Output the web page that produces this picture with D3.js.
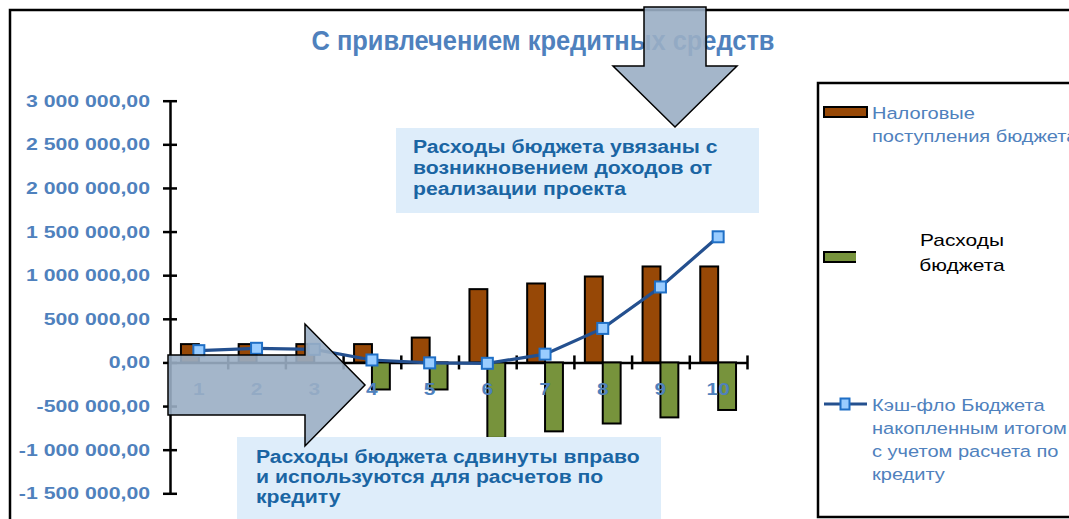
<!DOCTYPE html>
<html>
<head>
<meta charset="utf-8">
<script src="https://cdn.jsdelivr.net/npm/d3@7"></script>
<style>
  html, body { margin: 0; padding: 0; background: #fff; overflow: hidden; }
  svg { display: block; }
  text { font-family: "Liberation Sans", Arial, sans-serif; }
</style>
</head>
<body>
<svg id="chart" width="1069" height="519"></svg>
<script>
// ---- data ----
const categories = ["1", "2", "3", "4", "5", "6", "7", "8", "9", "10"];
const taxRevenue = [210000, 210000, 210000, 210000, 285000, 840000, 905000, 985000, 1100000, 1100000];
const budgetExpenses = [0, 0, 0, -310000, -310000, -865000, -790000, -700000, -630000, -545000];
const cashFlowCumulative = [135000, 162000, 150000, 28000, -5000, -10000, 95000, 390000, 865000, 1440000];
const yTickValues = [-1500000, -1000000, -500000, 0, 500000, 1000000, 1500000, 2000000, 2500000, 3000000];

const chartTitle = "С привлечением кредитных средств";
const seriesLabels = [
  ["Налоговые", "поступления бюджета"],
  ["Расходы", "бюджета"],
  ["Кэш-фло Бюджета", "накопленным итогом", "с учетом расчета по", "кредиту"]
];
const noteTop = ["Расходы бюджета увязаны с", "возникновением доходов от", "реализации проекта"];
const noteBottom = ["Расходы бюджета сдвинуты вправо", "и используются для расчетов по", "кредиту"];

// ---- styles ----
const C = {
  label: "#4f81bd",
  tax: "#974806",
  exp: "#77933c",
  line: "#24508f",
  markerFill: "#99ccff",
  markerStroke: "#1f6fc6",
  noteFill: "#deedfa",
  noteText: "#1a65a3",
  arrowFill: "#9aaec4"
};
const WIDEN = 1.23; // glyphs are drawn horizontally widened

const svg = d3.select("#chart");

function widen(sel, k) {
  sel.each(function () {
    const w = this.getComputedTextLength();
    this.setAttribute("textLength", w * k);
    this.setAttribute("lengthAdjust", "spacingAndGlyphs");
  });
  return sel;
}

const ruFormat = d3.formatLocale({ decimal: ",", thousands: " ", grouping: [3], currency: ["", ""], minus: "-" }).format(",.2f");

// outer frame
svg.append("rect").attr("x", 10).attr("y", 10).attr("width", 1200).attr("height", 700)
  .attr("fill", "none").attr("stroke", "#000").attr("stroke-width", 2.5);

// title
svg.append("text").attr("x", 543).attr("y", 50).attr("text-anchor", "middle")
  .attr("font-size", 27).attr("font-weight", "bold").attr("fill", C.label)
  .attr("textLength", 463).attr("lengthAdjust", "spacingAndGlyphs")
  .text(chartTitle);

// scales
const y = d3.scaleLinear().domain([-1500000, 3000000]).range([493.3, 100.7]);
const x0 = d3.scaleBand().domain(categories).range([170, 747]).paddingInner(0.38).paddingOuter(0.19);
const x1 = d3.scaleBand().domain(["tax", "exp"]).range([0, x0.bandwidth()]);
const xEdges = d3.scaleLinear().domain([0, categories.length]).range([170, 747]);

// y axis with crossing ticks
const yAxis = svg.append("g").attr("transform", "translate(170,0)")
  .call(d3.axisLeft(y).tickValues(yTickValues).tickSizeOuter(0).tickSizeInner(7).tickFormat(ruFormat));
yAxis.select(".domain").attr("stroke", "#000").attr("stroke-width", 2.5);
yAxis.selectAll(".tick line").attr("x1", -7).attr("x2", 7).attr("stroke", "#000").attr("stroke-width", 2.5);
yAxis.selectAll(".tick text").attr("x", -20).attr("font-size", 17).attr("font-weight", "bold")
  .attr("fill", C.label).attr("font-family", "Liberation Sans, Arial, sans-serif")
  .call(widen, 1.25);

// x axis: line at zero with crossing ticks at category edges
const xAxis = svg.append("g").attr("transform", `translate(0,${y(0)})`)
  .call(d3.axisBottom(xEdges).tickValues(d3.range(1, categories.length + 1)).tickSizeOuter(0).tickSizeInner(7).tickFormat(""));
xAxis.select(".domain").attr("stroke", "#000").attr("stroke-width", 2.5);
xAxis.selectAll(".tick line").attr("y1", -7).attr("y2", 7).attr("stroke", "#000").attr("stroke-width", 2.5);

// bars
const barData = categories.flatMap((c, i) => [
  { c, key: "tax", v: taxRevenue[i] },
  { c, key: "exp", v: budgetExpenses[i] }
]).filter(d => d.v !== 0);
svg.append("g").selectAll("rect").data(barData).join("rect")
  .attr("x", d => x0(d.c) + x1(d.key))
  .attr("y", d => y(Math.max(0, d.v)))
  .attr("width", x1.bandwidth())
  .attr("height", d => Math.abs(y(d.v) - y(0)))
  .attr("fill", d => d.key === "tax" ? C.tax : C.exp)
  .attr("stroke", "#000").attr("stroke-width", 2);

// category labels (drawn over the bars)
svg.append("g").selectAll("text").data(categories).join("text")
  .attr("x", d => x0(d) + x0.bandwidth() / 2).attr("y", 395)
  .attr("text-anchor", "middle").attr("font-size", 17).attr("font-weight", "bold").attr("fill", C.label)
  .text(d => d).call(widen, WIDEN);

// cumulative cash-flow line
const pts = categories.map((c, i) => [x0(c) + x0.bandwidth() / 2, y(cashFlowCumulative[i])]);
svg.append("path").datum(pts).attr("d", d3.line())
  .attr("fill", "none").attr("stroke", C.line).attr("stroke-width", 3.2);
svg.append("g").selectAll("rect").data(pts).join("rect")
  .attr("x", d => d[0] - 5.5).attr("y", d => d[1] - 5.5).attr("width", 11).attr("height", 11)
  .attr("fill", C.markerFill).attr("stroke", C.markerStroke).attr("stroke-width", 2);

// legend
svg.append("rect").attr("x", 818).attr("y", 83).attr("width", 400).attr("height", 434)
  .attr("fill", "#fff").attr("stroke", "#000").attr("stroke-width", 2.5);
const legendY = [112, 257, 404];
const lg = svg.append("g");
[C.tax, C.exp].forEach((col, i) => {
  lg.append("rect").attr("x", 824).attr("y", legendY[i] - 5).attr("width", 43).attr("height", 10)
    .attr("fill", col).attr("stroke", "#000").attr("stroke-width", 2);
});
lg.append("line").attr("x1", 824).attr("x2", 867).attr("y1", legendY[2]).attr("y2", legendY[2])
  .attr("stroke", C.line).attr("stroke-width", 3);
lg.append("rect").attr("x", 845 - 4.5).attr("y", legendY[2] - 5.5).attr("width", 9).attr("height", 11)
  .attr("fill", C.markerFill).attr("stroke", C.markerStroke).attr("stroke-width", 2);
[0, 2].forEach(i => {
  const t = lg.append("text").attr("font-size", 16.3).attr("fill", C.label);
  seriesLabels[i].forEach((s, j) => {
    t.append("tspan").attr("x", 872).attr("y", legendY[i] + 7 + j * 23).text(s);
  });
  t.selectAll("tspan").call(widen, WIDEN);
});

// expenses entry: white caption box with black text, partly over the swatch
svg.append("rect").attr("x", 856).attr("y", 222).attr("width", 206).attr("height", 62).attr("fill", "#fff");
const cap = svg.append("text").attr("font-size", 17).attr("fill", "#000").attr("text-anchor", "middle");
seriesLabels[1].forEach((s, j) => cap.append("tspan").attr("x", 962).attr("y", 246 + j * 25).text(s));
cap.selectAll("tspan").call(widen, WIDEN);

// note boxes
function note(x, yTop, w, h, tx, ty, lh, lines) {
  svg.append("rect").attr("x", x).attr("y", yTop).attr("width", w).attr("height", h).attr("fill", C.noteFill);
  const t = svg.append("text").attr("font-size", 17.5).attr("font-weight", "bold").attr("fill", C.noteText);
  lines.forEach((s, j) => t.append("tspan").attr("x", tx).attr("y", ty + j * lh).text(s));
  t.selectAll("tspan").call(widen, 1.21);
}
note(396, 128, 363, 85, 413, 153, 21, noteTop);
note(237, 437, 424, 90, 256, 463, 20, noteBottom);

// block arrows
const arrow = d3.line();
svg.append("path")
  .attr("d", arrow([[168, 355], [305, 355], [305, 324], [365, 385], [305, 446], [305, 415], [168, 415]]) + "Z")
  .attr("fill", C.arrowFill).attr("fill-opacity", 0.9).attr("stroke", "#000").attr("stroke-width", 1.5);
svg.append("path")
  .attr("d", arrow([[644, 7], [706, 7], [706, 66], [737, 66], [675, 127], [613, 66], [644, 66]]) + "Z")
  .attr("fill", C.arrowFill).attr("fill-opacity", 0.9).attr("stroke", "#000").attr("stroke-width", 1.5);
</script>
</body>
</html>
